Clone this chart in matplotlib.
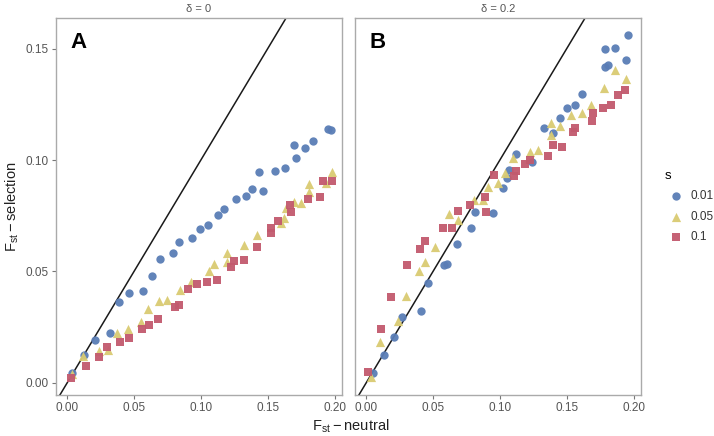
import matplotlib.pyplot as plt

plt.rcParams['font.family'] = ['Liberation Sans', 'DejaVu Sans']

# panel A (delta = 0)
a_blue_x = [0.004, 0.0123, 0.0206, 0.0319, 0.0387, 0.0462, 0.0568, 0.0631, 0.0694, 0.0794,
            0.0835, 0.0933, 0.099, 0.105, 0.1129, 0.1176, 0.1262, 0.134, 0.138, 0.1465,
            0.1431, 0.1556, 0.1629, 0.1712, 0.1695, 0.178, 0.1835, 0.1951, 0.1976]
a_blue_y = [0.0043, 0.0126, 0.0193, 0.0226, 0.0365, 0.0402, 0.0414, 0.048, 0.0555, 0.0584,
            0.0634, 0.0649, 0.0689, 0.0709, 0.0753, 0.0779, 0.0824, 0.084, 0.0871, 0.0862,
            0.0948, 0.0952, 0.0965, 0.1008, 0.1067, 0.1055, 0.1085, 0.1137, 0.1135]
a_yel_x = [0.004, 0.012, 0.0241, 0.0304, 0.0375, 0.0455, 0.0556, 0.0606, 0.0689, 0.0749,
           0.0845, 0.0925, 0.1063, 0.1101, 0.1197, 0.1197, 0.1322, 0.1423, 0.16, 0.1624,
           0.1637, 0.1699, 0.175, 0.1812, 0.1812, 0.1938, 0.1981]
a_yel_y = [0.004, 0.012, 0.0145, 0.0148, 0.0224, 0.0242, 0.0275, 0.0332, 0.0369, 0.0372,
           0.0418, 0.0453, 0.0504, 0.0534, 0.0584, 0.0544, 0.0619, 0.0664, 0.0716, 0.0739,
           0.0783, 0.0813, 0.0806, 0.0892, 0.0858, 0.0896, 0.0948]
a_red_x = [0.0028, 0.0141, 0.0236, 0.0299, 0.0392, 0.046, 0.0563, 0.0611, 0.0681, 0.0807,
           0.0839, 0.0907, 0.0968, 0.1046, 0.1121, 0.1224, 0.1244, 0.132, 0.1418, 0.1523,
           0.1523, 0.1578, 0.167, 0.1674, 0.18, 0.1888, 0.1913, 0.1981]
a_red_y = [0.0021, 0.0078, 0.0118, 0.0163, 0.0185, 0.0203, 0.0241, 0.026, 0.0286, 0.0339,
           0.0348, 0.042, 0.0445, 0.0452, 0.0461, 0.0522, 0.0548, 0.055, 0.0612, 0.0694,
           0.0671, 0.0725, 0.0798, 0.0768, 0.0825, 0.0835, 0.0906, 0.0906]

# panel B (delta = 0.2)
b_blue_x = [0.0051, 0.0136, 0.0207, 0.027, 0.0409, 0.0465, 0.0579, 0.0602, 0.068, 0.0783,
            0.0817, 0.0949, 0.1026, 0.1056, 0.1069, 0.1124, 0.1241, 0.1333, 0.14, 0.1446,
            0.1501, 0.1559, 0.1612, 0.1785, 0.1812, 0.1785, 0.1864, 0.1946, 0.1961]
b_blue_y = [0.0045, 0.0126, 0.0208, 0.0295, 0.0322, 0.045, 0.0529, 0.0533, 0.0623, 0.0697,
            0.0767, 0.0763, 0.0873, 0.0918, 0.0955, 0.1027, 0.0989, 0.1142, 0.112, 0.1188,
            0.1232, 0.1247, 0.1295, 0.1418, 0.1426, 0.1497, 0.1502, 0.1448, 0.156]
b_yel_x = [0.0038, 0.0107, 0.0239, 0.0296, 0.0397, 0.044, 0.0515, 0.0616, 0.0686, 0.0805,
           0.0875, 0.0911, 0.0984, 0.1037, 0.1101, 0.1224, 0.1282, 0.1382, 0.1379, 0.1446,
           0.1531, 0.1615, 0.1684, 0.1782, 0.186, 0.1943]
b_yel_y = [0.0025, 0.0185, 0.0279, 0.0391, 0.0503, 0.0544, 0.0611, 0.0756, 0.073, 0.0819,
           0.0821, 0.088, 0.0896, 0.094, 0.1011, 0.1037, 0.1045, 0.1168, 0.1112, 0.1152,
           0.1202, 0.1209, 0.1248, 0.1325, 0.1404, 0.1362]
b_red_x = [0.0015, 0.0113, 0.0183, 0.0302, 0.0403, 0.044, 0.0573, 0.0639, 0.0685, 0.0779,
           0.0895, 0.0892, 0.0956, 0.1106, 0.1118, 0.1186, 0.1225, 0.1357, 0.1395, 0.1465,
           0.1546, 0.1559, 0.1692, 0.1697, 0.1772, 0.1833, 0.1885, 0.1936]
b_red_y = [0.0049, 0.0242, 0.0387, 0.053, 0.06, 0.0638, 0.0697, 0.0697, 0.077, 0.08,
           0.0765, 0.0835, 0.0931, 0.0927, 0.0952, 0.0983, 0.1001, 0.1018, 0.1066, 0.1057,
           0.1125, 0.1144, 0.1177, 0.1209, 0.1232, 0.1247, 0.1293, 0.1315]

s_labels = ['0.01', '0.05', '0.1']
s_colors = ['#5A7DB6', '#D9CB72', '#C25A6E']
s_markers = ['o', '^', 's']
s_sizes = [36, 44, 32]
panel_titles = ['\u03b4 = 0', '\u03b4 = 0.2']
panel_letters = ['A', 'B']
xticks = [0.00, 0.05, 0.10, 0.15, 0.20]
yticks = [0.00, 0.05, 0.10, 0.15]

panels = [
    [(a_blue_x, a_blue_y), (a_yel_x, a_yel_y), (a_red_x, a_red_y)],
    [(b_blue_x, b_blue_y), (b_yel_x, b_yel_y), (b_red_x, b_red_y)],
]

fig = plt.figure(figsize=(7.14, 4.36), dpi=100)
lefts = [56 / 714, 355 / 714]
w = 286 / 714
bottom = 41 / 436
h = 377 / 436
grey = '#555555'

for i, series in enumerate(panels):
    ax = fig.add_axes([lefts[i], bottom, w, h])
    ax.plot([-0.01, 0.21], [-0.01, 0.21], color='#1a1a1a', lw=1.1, zorder=1)
    for j, (xs, ys) in enumerate(series):
        ax.scatter(xs, ys, marker=s_markers[j], s=s_sizes[j], color=s_colors[j],
                   linewidths=0, alpha=0.95, zorder=2, label=s_labels[j])
    ax.set_xlim(-0.0083, 0.2055)
    ax.set_ylim(-0.0054, 0.1637)
    ax.set_xticks(xticks)
    ax.set_xticklabels([f'{t:.2f}' for t in xticks])
    ax.set_yticks(yticks)
    if i == 0:
        ax.set_yticklabels([f'{t:.2f}' for t in yticks])
        ax.tick_params(axis='y', length=3, color='#777777', labelsize=8.5, labelcolor=grey, pad=2)
    else:
        ax.tick_params(axis='y', length=0, labelleft=False)
    ax.tick_params(axis='x', length=3, color='#777777', labelsize=8.5, labelcolor=grey, pad=2)
    for sp in ax.spines.values():
        sp.set_color('#AAAAAA')
        sp.set_linewidth(1.0)
    ax.set_title(panel_titles[i], fontsize=8, color=grey, pad=4)
    ax.text(0.05, 0.935, panel_letters[i], transform=ax.transAxes, fontsize=16,
            fontweight='bold', ha='left', va='center', color='black')
    if i == 1:
        leg = ax.legend(title='s', loc='center left', bbox_to_anchor=(1.0 + 15 / 286, 0.5),
                        frameon=False, fontsize=8.5, title_fontsize=9.5,
                        handletextpad=0.2, labelspacing=0.7, borderaxespad=0.3,
                        markerscale=1.0)
        leg._legend_box.align = 'left'
        for t in leg.get_texts():
            t.set_color('#333333')

fig.text(351 / 714, 1 - 426 / 436, r'$\mathregular{F_{st} - neutral}$', ha='center',
         va='center', fontsize=10.5, color='#222222')
fig.text(12 / 714, 1 - 207 / 436, r'$\mathregular{F_{st} - selection}$', ha='center',
         va='center', rotation=90, fontsize=10.5, color='#222222')

fig.savefig('out.png', dpi=100)
